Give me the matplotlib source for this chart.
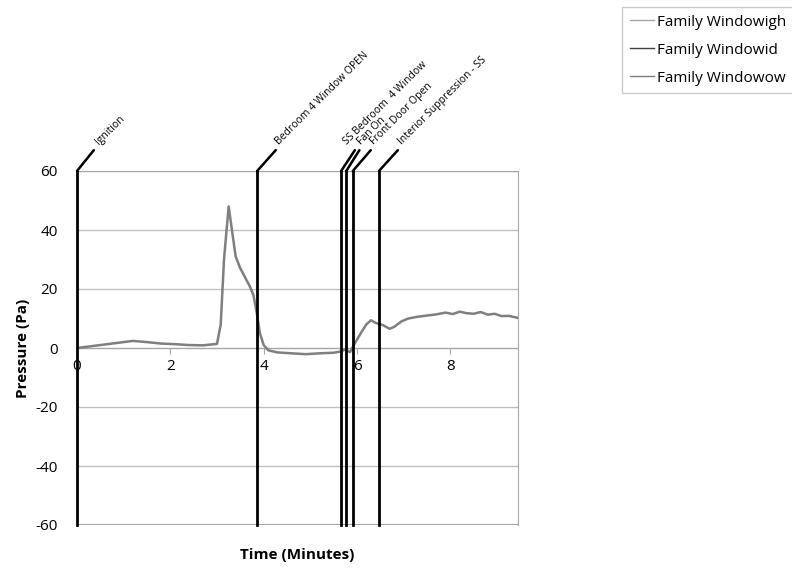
import matplotlib
matplotlib.use("Agg")

import matplotlib.pyplot as plt
from matplotlib.lines import Line2D

# pressure trace
time_min = [0, 0.3, 0.6, 0.9, 1.2, 1.5, 1.8, 2.1, 2.4, 2.7, 3.0, 3.08, 3.15, 3.25, 3.32,
            3.4, 3.5, 3.6, 3.7, 3.78, 3.85, 3.92, 4.0, 4.1, 4.3, 4.6, 4.9, 5.2, 5.5, 5.65,
            5.75, 5.85, 5.95, 6.1, 6.2, 6.3, 6.4, 6.55, 6.7, 6.8, 6.95, 7.1, 7.3, 7.5, 7.7,
            7.9, 8.05, 8.2, 8.35, 8.5, 8.65, 8.8, 8.95, 9.1, 9.25, 9.45]
pressure = [0, 0.6, 1.2, 1.8, 2.4, 2.0, 1.5, 1.3, 1.0, 0.9, 1.4, 8, 30, 48, 40,
            31, 27, 24, 21, 18, 12, 5, 1, -0.8, -1.5, -1.8, -2.1, -1.8, -1.6, -1.2,
            -0.5, -1.4, 1.5, 5.5, 8, 9.4, 8.5, 7.8, 6.5, 7.2, 9, 10, 10.6, 11, 11.4,
            12, 11.5, 12.3, 11.8, 11.6, 12.2, 11.3, 11.6, 10.8, 10.9, 10.2]

event_times = [0, 3.86, 5.66, 5.77, 5.91, 6.47]
event_labels = ["Ignition", "Bedroom 4 Window OPEN", "SS Bedroom  4 Window",
                "Fan On", "Front Door Open", "Interior Suppression - SS"]
leader_dx = [17, 17, 6, 12, 17, 18]

series_names = ["Family Windowigh", "Family Windowid", "Family Windowow"]
series_colors = ["#a6a6a6", "#404040", "#7f7f7f"]

plt.rcParams['font.family'] = ['Open Sans', 'DejaVu Sans']
plt.rcParams['axes.unicode_minus'] = False

fig = plt.figure(figsize=(7.92, 5.68), dpi=100)
ax = fig.add_axes([77/792, 1 - 525/568, (518-77)/792, (525-171)/568])

ax.set_xlim(0, 9.45)
ax.set_ylim(-60, 60)
ax.set_yticks([-60, -40, -20, 0, 20, 40, 60])
ax.set_xticks([0, 2, 4, 6, 8])
ax.grid(axis='y', color='#bfbfbf', lw=1)

ax.plot(time_min, pressure, color='#7f7f7f', lw=1.8, zorder=3)

for s in ['top', 'right', 'left']:
    ax.spines[s].set_color('#a6a6a6')
ax.spines['bottom'].set_position(('data', 0))
ax.spines['bottom'].set_color('#a6a6a6')
ax.axhline(-60, color='#a6a6a6', lw=1.5)

ax.tick_params(axis='y', length=0, labelsize=11, pad=14)
ax.tick_params(axis='x', length=4, color='#a6a6a6', labelsize=11, pad=4)

for t, lab, dx in zip(event_times, event_labels, leader_dx):
    ax.axvline(t, color='black', lw=2, zorder=4, clip_on=False)
    ax.annotate(lab, xy=(t, 60), xycoords='data',
                xytext=(dx, 17), textcoords='offset points',
                rotation=45, fontsize=7.5, ha='left', va='bottom',
                rotation_mode='anchor',
                arrowprops=dict(arrowstyle='-', color='black', lw=1.8,
                                shrinkA=0, shrinkB=0),
                annotation_clip=False)

ax.set_xlabel("Time (Minutes)", fontsize=11, fontweight='bold', labelpad=0)
ax.xaxis.set_label_coords(0.5, -0.065)
ax.set_ylabel("Pressure (Pa)", fontsize=11, fontweight='bold', labelpad=4)

handles = [Line2D([], [], color=c, lw=1) for c in series_colors]
fig.legend(handles, series_names, loc='upper left',
           bbox_to_anchor=(622/792, 1 - 7/568), fontsize=11,
           frameon=True, fancybox=False, edgecolor='#bfbfbf',
           handlelength=1.6, handletextpad=0.2, labelspacing=0.85,
           borderaxespad=0, borderpad=0.5)

fig.savefig("out.png", dpi=100)
